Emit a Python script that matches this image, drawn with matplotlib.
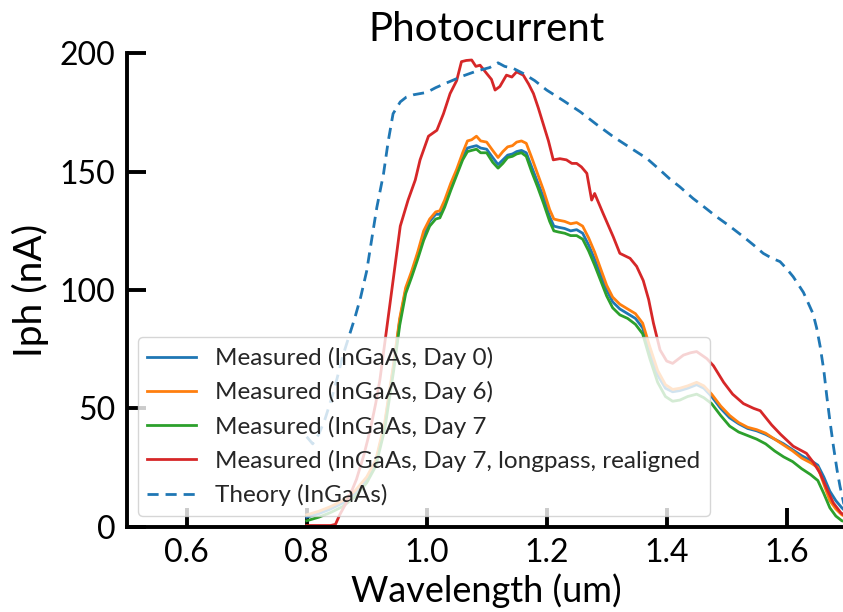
import matplotlib
matplotlib.use("Agg")
import matplotlib.pyplot as plt

plt.rcParams['font.family'] = ['Lato', 'DejaVu Sans']

# Wavelength grid shared by the three InGaAs day-by-day measurements (um)
wl_meas = [0.800, 0.820, 0.840, 0.860, 0.880, 0.900, 0.915, 0.930, 0.945, 0.955,
           0.965, 0.975, 0.985, 0.995, 1.005, 1.015, 1.022, 1.030, 1.040, 1.050,
           1.060, 1.068, 1.075, 1.083, 1.090, 1.100, 1.110, 1.119, 1.127, 1.135,
           1.143, 1.150, 1.158, 1.166, 1.175, 1.185, 1.195, 1.205, 1.212, 1.220,
           1.230, 1.240, 1.250, 1.260, 1.270, 1.280, 1.290, 1.300, 1.310, 1.322,
           1.335, 1.348, 1.360, 1.372, 1.385, 1.398, 1.410, 1.422, 1.435, 1.450,
           1.462, 1.475, 1.490, 1.505, 1.520, 1.535, 1.550, 1.565, 1.580, 1.595,
           1.610, 1.625, 1.640, 1.652, 1.662, 1.672, 1.682, 1.692, 1.700]

iph_day0 = [4, 5.5, 7.5, 10, 14, 20, 27, 43, 68, 87,
            100, 107, 115, 123, 129, 132, 132, 136.5, 143, 149.5,
            156, 160, 160.5, 161, 160, 159.5, 156, 153, 155, 157,
            157.5, 158.5, 159, 158, 152, 145.5, 139, 131, 127, 126.5,
            126, 125, 125.5, 124, 119, 113, 106.5, 100, 95, 92,
            90, 88, 84, 74, 64, 58.5, 57, 57.5, 58.5, 60,
            58.5, 55, 50, 46, 43.5, 41.5, 40.5, 39, 37, 35,
            32.5, 30, 28, 26, 21, 15, 11, 8, 6]

iph_day6 = [5, 6.5, 8.5, 11, 15, 21, 28, 44, 69, 88,
            101, 108, 116, 125, 130, 133, 133.5, 138, 145, 151,
            158, 163, 163.5, 165, 163, 162.5, 159, 156, 158.5, 160.5,
            161, 162.5, 163, 162, 156, 149, 142, 134, 130, 129.5,
            129, 128, 128.5, 127, 122, 116, 109, 102, 97, 94,
            92, 90, 86, 76, 66, 60, 58, 58.5, 59.5, 61,
            59.5, 56, 51, 47, 44, 42, 41, 39.5, 37, 34.5,
            32, 29, 27, 25, 18, 11, 7.5, 5, 4]

iph_day7 = [2.5, 4, 6, 8.5, 12.5, 18.5, 25.5, 41, 66, 85,
            98.5, 105.5, 113, 121, 127, 130, 130.5, 135, 142, 148.5,
            155, 158.5, 159, 159.5, 158, 158, 154, 151.5, 153.5, 156,
            156.5, 157.5, 158, 156.5, 150, 143.5, 136.5, 129, 125, 124.5,
            124, 123, 123, 121.5, 116.5, 110.5, 104, 97.5, 92.5, 89.5,
            88, 85.5, 81.5, 71, 61, 55, 53, 53.5, 55, 56,
            54.5, 52, 47, 42.5, 40, 38.5, 37, 35, 32, 29.5,
            27.5, 24.5, 22, 19.5, 14, 8, 4.5, 2.5, 2]

# Day 7 with longpass filter after realignment
wl_longpass = [0.800, 0.820, 0.840, 0.848, 0.855, 0.870, 0.883, 0.895, 0.906, 0.915,
               0.922, 0.933, 0.944, 0.956, 0.969, 0.981, 0.989, 1.003, 1.017, 1.028,
               1.039, 1.050, 1.058, 1.066, 1.075, 1.082, 1.089, 1.100, 1.108, 1.114,
               1.122, 1.133, 1.142, 1.150, 1.161, 1.170, 1.178, 1.186, 1.194, 1.203,
               1.211, 1.222, 1.233, 1.242, 1.250, 1.258, 1.267, 1.275, 1.280, 1.294,
               1.311, 1.322, 1.339, 1.350, 1.361, 1.370, 1.378, 1.389, 1.400, 1.410,
               1.428, 1.440, 1.450, 1.467, 1.478, 1.495, 1.510, 1.528, 1.545, 1.556,
               1.575, 1.590, 1.611, 1.633, 1.645, 1.656, 1.667, 1.678, 1.690, 1.700]

iph_longpass = [0.5, 0.5, 0.5, 1, 5, 12, 20, 30, 41, 52,
                62, 83, 104, 127, 138, 146.5, 155, 165, 167.5, 174.5,
                183, 188.5, 196.5, 197, 197.2, 194.5, 195, 191.5, 189, 184.5,
                186, 190.8, 190, 192.2, 190.8, 187, 183, 177, 170.4, 163,
                155, 155.5, 155, 153.5, 153.5, 152, 149.3, 138, 140.8, 132.4,
                122.5, 115.5, 113.4, 110, 104, 96, 86, 74.7, 70, 69,
                72.5, 73.5, 74, 71, 68, 61, 56, 52, 50, 49,
                43, 39, 34, 31, 27, 22.5, 16, 10, 6, 4]

# Modelled photocurrent
wl_theory = [0.800, 0.810, 0.820, 0.830, 0.840, 0.850, 0.860, 0.870, 0.880, 0.890,
             0.900, 0.910, 0.917, 0.928, 0.936, 0.944, 0.956, 0.966, 0.978, 1.000,
             1.015, 1.033, 1.061, 1.083, 1.105, 1.119, 1.130, 1.144, 1.161, 1.180,
             1.200, 1.228, 1.256, 1.283, 1.311, 1.340, 1.367, 1.389, 1.405, 1.422,
             1.444, 1.463, 1.483, 1.505, 1.528, 1.545, 1.561, 1.575, 1.589, 1.600,
             1.611, 1.628, 1.644, 1.650, 1.656, 1.662, 1.667, 1.672, 1.678, 1.684,
             1.689, 1.695, 1.700]

iph_theory = [38, 35, 39, 45, 53, 62, 72, 80, 88, 97,
              108, 124, 135, 149, 163, 174.5, 179.5, 181.5, 182.5, 183.5,
              185.5, 187.5, 190.5, 192.5, 194, 196, 194.5, 193.7, 191.5, 188.5,
              184.5, 180, 175.3, 170, 164.8, 160, 155.6, 150.7, 147, 143.6,
              138.7, 135, 131, 127, 122.5, 119, 115.5, 113.5, 112, 109,
              105.6, 99, 90, 84, 76, 66, 55, 45, 34, 24,
              17, 10, 6]

x_ticks = [0.6, 0.8, 1.0, 1.2, 1.4, 1.6]
y_ticks = [0, 50, 100, 150, 200]

fig = plt.figure(figsize=(8.43, 6.12), dpi=100)
ax = fig.add_axes([0.1503, 0.1394, 0.854, 0.7734])

lw = 2.0
ax.plot(wl_meas, iph_day0, color='#1f77b4', lw=lw, label='Measured (InGaAs, Day 0)')
ax.plot(wl_meas, iph_day6, color='#ff7f0e', lw=lw, label='Measured (InGaAs, Day 6)')
ax.plot(wl_meas, iph_day7, color='#2ca02c', lw=lw, label='Measured (InGaAs, Day 7')
ax.plot(wl_longpass, iph_longpass, color='#d62728', lw=lw,
        label='Measured (InGaAs, Day 7, longpass, realigned')
ax.plot(wl_theory, iph_theory, color='#1f77b4', lw=lw, ls='--', dashes=(4, 2.5),
        label='Theory (InGaAs)')

ax.set_xlim(0.5, 1.7)
ax.set_ylim(0, 200)
ax.set_xticks(x_ticks)
ax.set_xticklabels([f'{v:.1f}' for v in x_ticks])
ax.set_yticks(y_ticks)

for side in ('top', 'right'):
    ax.spines[side].set_visible(False)
for side in ('left', 'bottom'):
    ax.spines[side].set_linewidth(2.8)
ax.tick_params(direction='in', length=14, width=2.8, labelsize=23, pad=8)

ax.set_title('Photocurrent', fontsize=29, pad=9)
ax.set_xlabel('Wavelength (um)', fontsize=26, labelpad=4)
ax.set_ylabel('Iph (nA)', fontsize=28, labelpad=8)

leg = ax.legend(loc='lower left', fontsize=17.5, handlelength=2.0, framealpha=0.8,
                borderaxespad=0.45)
for text in leg.get_texts():
    text.set_color('#262626')

fig.savefig('out.png', dpi=100)
